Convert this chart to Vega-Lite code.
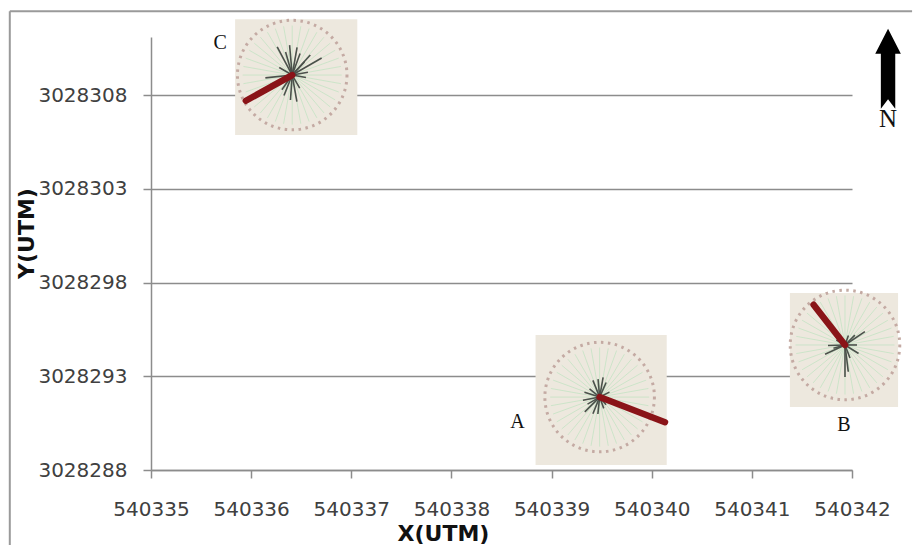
{
  "$schema": "https://vega.github.io/schema/vega-lite/v6.json",
  "width": 701,
  "height": 433,
  "autosize": {"type": "none"},
  "padding": {"left": 151, "top": 37, "right": 61, "bottom": 78},
  "background": "white",
  "config": {"view": {"stroke": null}},
  "datasets": {
    "frame": [
      {"x": 540333.59, "x1": 540342.6, "y": 3028312.48, "y1": 3028284.0}
    ],
    "sites": [
      {"site": "A", "x": 540339.48, "y": 3028291.89, "x0": 540338.84, "x1": 540340.15, "y0": 3028288.27, "y1": 3028295.2},
      {"site": "B", "x": 540341.93, "y": 3028294.67, "x0": 540341.38, "x1": 540342.46, "y0": 3028291.36, "y1": 3028297.44},
      {"site": "C", "x": 540336.41, "y": 3028309.07, "x0": 540335.84, "x1": 540337.06, "y0": 3028305.87, "y1": 3028312.05}
    ],
    "petals": [
      {"site": "A", "kind": "mean", "dir": 111, "len": 70},
      {"site": "A", "kind": "petal", "dir": 355, "len": 18},
      {"site": "A", "kind": "petal", "dir": 338, "len": 18},
      {"site": "A", "kind": "petal", "dir": 10, "len": 20},
      {"site": "A", "kind": "petal", "dir": 24, "len": 16},
      {"site": "A", "kind": "petal", "dir": 63, "len": 11},
      {"site": "A", "kind": "petal", "dir": 140, "len": 10},
      {"site": "A", "kind": "petal", "dir": 160, "len": 12},
      {"site": "A", "kind": "petal", "dir": 186, "len": 17},
      {"site": "A", "kind": "petal", "dir": 202, "len": 18},
      {"site": "A", "kind": "petal", "dir": 225, "len": 21},
      {"site": "A", "kind": "petal", "dir": 240, "len": 14},
      {"site": "A", "kind": "petal", "dir": 259, "len": 17},
      {"site": "A", "kind": "petal", "dir": 288, "len": 16},
      {"site": "A", "kind": "petal", "dir": 309, "len": 13},
      {"site": "B", "kind": "mean", "dir": 322, "len": 51},
      {"site": "B", "kind": "petal", "dir": 180, "len": 32},
      {"site": "B", "kind": "petal", "dir": 173, "len": 27},
      {"site": "B", "kind": "petal", "dir": 56, "len": 24},
      {"site": "B", "kind": "petal", "dir": 45, "len": 14},
      {"site": "B", "kind": "petal", "dir": 20, "len": 10},
      {"site": "B", "kind": "petal", "dir": 90, "len": 12},
      {"site": "B", "kind": "petal", "dir": 122, "len": 16},
      {"site": "B", "kind": "petal", "dir": 159, "len": 14},
      {"site": "B", "kind": "petal", "dir": 245, "len": 22},
      {"site": "B", "kind": "petal", "dir": 254, "len": 12},
      {"site": "B", "kind": "petal", "dir": 268, "len": 17},
      {"site": "B", "kind": "petal", "dir": 300, "len": 10},
      {"site": "C", "kind": "mean", "dir": 241, "len": 53},
      {"site": "C", "kind": "petal", "dir": 332, "len": 32},
      {"site": "C", "kind": "petal", "dir": 344, "len": 24},
      {"site": "C", "kind": "petal", "dir": 355, "len": 30},
      {"site": "C", "kind": "petal", "dir": 10, "len": 28},
      {"site": "C", "kind": "petal", "dir": 20, "len": 23},
      {"site": "C", "kind": "petal", "dir": 42, "len": 27},
      {"site": "C", "kind": "petal", "dir": 43, "len": 18},
      {"site": "C", "kind": "petal", "dir": 60, "len": 34},
      {"site": "C", "kind": "petal", "dir": 80, "len": 16},
      {"site": "C", "kind": "petal", "dir": 100, "len": 14},
      {"site": "C", "kind": "petal", "dir": 150, "len": 15},
      {"site": "C", "kind": "petal", "dir": 170, "len": 27},
      {"site": "C", "kind": "petal", "dir": 184, "len": 25},
      {"site": "C", "kind": "petal", "dir": 202, "len": 22},
      {"site": "C", "kind": "petal", "dir": 215, "len": 18},
      {"site": "C", "kind": "petal", "dir": 246, "len": 24},
      {"site": "C", "kind": "petal", "dir": 264, "len": 27},
      {"site": "C", "kind": "petal", "dir": 300, "len": 15}
    ],
    "labels": [
      {"label": "A", "x": 540338.66, "y": 3028290.56},
      {"label": "B", "x": 540341.92, "y": 3028290.4},
      {"label": "C", "x": 540335.69, "y": 3028310.77}
    ],
    "north": [
      {"label": "N", "x": 540342.36, "y": 3028309.4, "ly": 3028306.7}
    ]
  },
  "encoding": {
    "x": {
      "field": "x", "type": "quantitative", "title": "X(UTM)",
      "scale": {"domain": [540335, 540342], "nice": false, "zero": false},
      "axis": {
        "values": [540335, 540336, 540337, 540338, 540339, 540340, 540341, 540342],
        "format": "d", "grid": false,
        "domainColor": "#8c8c8c", "domainWidth": 1.5,
        "tickColor": "#8c8c8c", "tickWidth": 1.5, "tickSize": 8,
        "labelFont": "DejaVu Sans", "labelFontSize": 20, "labelColor": "#404040",
        "labelPadding": 21, "labelFlush": false,
        "titleFont": "DejaVu Sans", "titleFontSize": 22, "titleFontWeight": "bold", "titleColor": "#111111",
        "titleX": 292, "titleY": 63, "titleBaseline": "middle", "titleAlign": "center"
      }
    },
    "y": {
      "field": "y", "type": "quantitative", "title": "Y(UTM)",
      "scale": {"domain": [3028288, 3028311.1], "nice": false, "zero": false},
      "axis": {
        "values": [3028288, 3028293, 3028298, 3028303, 3028308],
        "format": "d", "grid": true, "gridColor": "#8c8c8c", "gridWidth": 1.5,
        "domainColor": "#8c8c8c", "domainWidth": 1.5,
        "tickColor": "#8c8c8c", "tickWidth": 1.5, "tickSize": 8,
        "labelFont": "DejaVu Sans", "labelFontSize": 20, "labelColor": "#404040",
        "labelPadding": 16,
        "titleFont": "DejaVu Sans", "titleFontSize": 22, "titleFontWeight": "bold", "titleColor": "#111111",
        "titleX": -125, "titleY": 196, "titleBaseline": "middle", "titleAlign": "center", "titleAngle": -90
      }
    }
  },
  "layer": [
    {
      "data": {"name": "frame"},
      "mark": {"type": "rule", "color": "#9a9a9a", "strokeWidth": 2},
      "encoding": {
        "y2": {"field": "y1"}
      }
    },
    {
      "data": {"name": "frame"},
      "mark": {"type": "rule", "color": "#9a9a9a", "strokeWidth": 2},
      "encoding": {
        "x2": {"field": "x1"}
      }
    },
    {
      "data": {"name": "sites"},
      "mark": {"type": "rect", "color": "#ede8de"},
      "encoding": {
        "x": {"field": "x0", "type": "quantitative", "title": "X(UTM)"},
        "x2": {"field": "x1"},
        "y": {"field": "y0", "type": "quantitative", "title": "Y(UTM)"},
        "y2": {"field": "y1"}
      }
    },
    {
      "data": {"name": "sites"},
      "mark": {"type": "point", "shape": "circle", "filled": false, "size": 12000, "stroke": "#c4aaa3", "strokeWidth": 3, "strokeDash": [2.5, 4.5], "opacity": 1}
    },
    {
      "data": {"name": "sites"},
      "mark": {
        "type": "point", "filled": false, "size": 9800, "stroke": "#bfe3c0", "strokeWidth": 0.7, "opacity": 1,
        "shape": "M-1,0L1,0M-0.985,-0.174L0.985,0.174M-0.94,-0.342L0.94,0.342M-0.866,-0.5L0.866,0.5M-0.766,-0.643L0.766,0.643M-0.643,-0.766L0.643,0.766M-0.5,-0.866L0.5,0.866M-0.342,-0.94L0.342,0.94M-0.174,-0.985L0.174,0.985M0,-1L0,1M0.174,-0.985L-0.174,0.985M0.342,-0.94L-0.342,0.94M0.5,-0.866L-0.5,0.866M0.643,-0.766L-0.643,0.766M0.766,-0.643L-0.766,0.643M0.866,-0.5L-0.866,0.5M0.94,-0.342L-0.94,0.342M0.985,-0.174L-0.985,0.174"
      }
    },
    {
      "data": {"name": "petals"},
      "transform": [
        {"filter": "datum.kind === 'petal'"},
        {"lookup": "site", "from": {"data": {"name": "sites"}, "key": "site", "fields": ["x", "y"]}}
      ],
      "mark": {"type": "point", "shape": "M0,0L0,-1", "filled": false, "stroke": "#4b514b", "strokeWidth": 1.6, "opacity": 1},
      "encoding": {
        "angle": {"field": "dir", "type": "quantitative", "scale": null},
        "size": {"field": "len", "type": "quantitative", "scale": {"type": "pow", "exponent": 2, "domain": [0, 100], "range": [0, 40000]}, "legend": null}
      }
    },
    {
      "data": {"name": "petals"},
      "transform": [
        {"filter": "datum.kind === 'mean'"},
        {"lookup": "site", "from": {"data": {"name": "sites"}, "key": "site", "fields": ["x", "y"]}}
      ],
      "mark": {"type": "point", "shape": "M0,0L0,-1", "filled": false, "stroke": "#8a1418", "strokeWidth": 6.5, "strokeCap": "round", "opacity": 1},
      "encoding": {
        "angle": {"field": "dir", "type": "quantitative", "scale": null},
        "size": {"field": "len", "type": "quantitative", "scale": {"type": "pow", "exponent": 2, "domain": [0, 100], "range": [0, 40000]}, "legend": null}
      }
    },
    {
      "data": {"name": "labels"},
      "mark": {"type": "text", "font": "Liberation Serif", "fontSize": 20, "color": "#111111", "align": "center", "baseline": "middle"},
      "encoding": {"text": {"field": "label"}}
    },
    {
      "data": {"name": "north"},
      "mark": {
        "type": "point", "filled": true, "color": "#000000", "opacity": 1, "size": 6400,
        "shape": "M0,-1L0.32,-0.38L0.18,-0.38L0.18,1L0,0.76L-0.18,1L-0.18,-0.38L-0.32,-0.38Z"
      }
    },
    {
      "data": {"name": "north"},
      "mark": {"type": "text", "font": "Liberation Serif", "fontSize": 25, "color": "#111111", "align": "center", "baseline": "middle"},
      "encoding": {
        "y": {"field": "ly", "type": "quantitative", "title": "Y(UTM)"},
        "text": {"field": "label"}
      }
    }
  ]
}
